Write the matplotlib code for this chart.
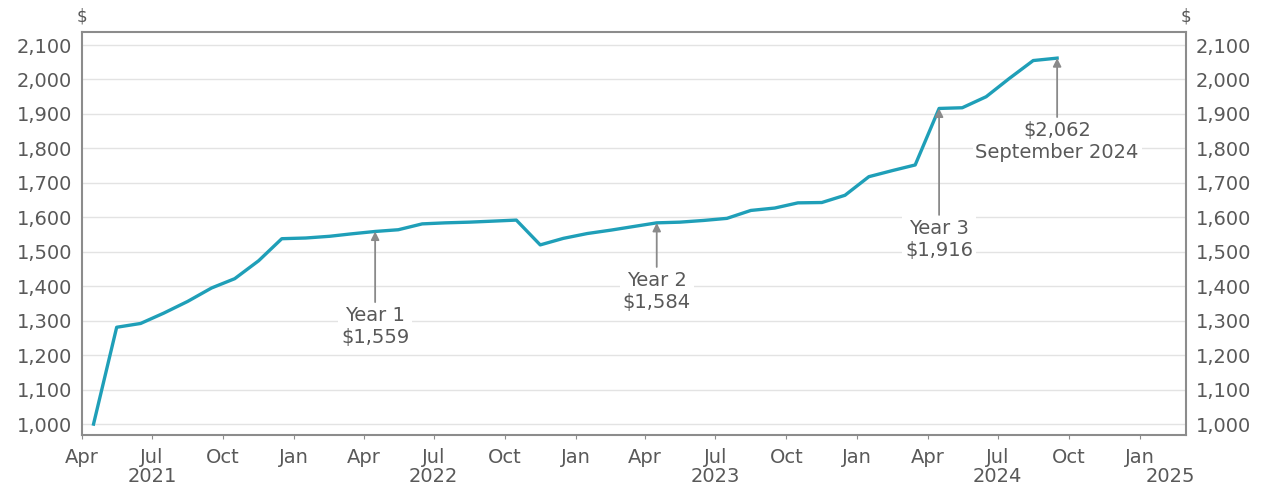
import matplotlib
matplotlib.use("Agg")
import matplotlib.pyplot as plt
import matplotlib.dates as mdates
import matplotlib.transforms as mtransforms
import numpy as np
import pandas as pd

# monthly values, Apr 2021 .. Sep 2024 (plotted mid-month)
months = pd.date_range("2021-04-01", periods=42, freq="MS") + pd.Timedelta(days=15)
values = [1000, 1281, 1292, 1322, 1356, 1395, 1422, 1474, 1538, 1540,
          1545, 1552, 1559, 1564, 1581, 1584, 1586, 1589, 1592, 1520,
          1539, 1553, 1563, 1573, 1584, 1586, 1591, 1597, 1620, 1627,
          1642, 1643, 1664, 1718, 1736, 1752, 1916, 1918, 1950, 2003,
          2055, 2062]

# annotations: (label, month index, arrow tail value)
notes = [("Year 1\n$1,559", 12, 1354),
         ("Year 2\n$1,584", 24, 1456),
         ("Year 3\n$1,916", 36, 1607),
         ("$2,062\nSeptember 2024", 41, 1891)]

years = ["2021", "2022", "2023", "2024", "2025"]
year_pos = ["2021-07-01", "2022-07-01", "2023-07-01", "2024-07-01", "2025-02-10"]

grey = "#595959"
line_col = "#1f9fb8"
fs = 14
plt.rcParams['font.family'] = ['DejaVu Sans']

fig = plt.figure(figsize=(12.61, 4.84), dpi=100)
ax = fig.add_axes([0.065, 0.101, 0.8755, 0.833])

ax.plot(months, values, color=line_col, lw=2.4, zorder=3)

ax.set_ylim(968, 2138)
ax.set_xlim(pd.Timestamp("2021-04-01"), pd.Timestamp("2025-03-02"))
ax.set_yticks(np.arange(1000, 2101, 100))
ax.yaxis.set_major_formatter(matplotlib.ticker.FuncFormatter(lambda v, p: f"{int(v):,}"))
ax.grid(axis="y", color="#e3e3e3", lw=1.0, zorder=0)

ax.xaxis.set_major_locator(mdates.MonthLocator(bymonth=[1, 4, 7, 10]))
ax.xaxis.set_major_formatter(mdates.DateFormatter("%b"))

for s in ax.spines.values():
    s.set_color("#8c8c8c")
    s.set_linewidth(1.5)

ax.tick_params(axis="y", length=0, labelsize=fs, labelcolor=grey, pad=7,
               labelright=True)
ax.tick_params(axis="x", length=3, color="#8c8c8c", labelsize=fs,
               labelcolor=grey, pad=6)

# "$" unit labels at both ends
ax.text(0, 1.015, "$", transform=ax.transAxes, ha="center", va="bottom",
        fontsize=12, color=grey)
ax.text(1, 1.015, "$", transform=ax.transAxes, ha="center", va="bottom",
        fontsize=12, color=grey)

# year labels under the month labels
trans = mtransforms.blended_transform_factory(ax.transData, ax.transAxes)
for yr, pos in zip(years, year_pos):
    ax.text(pd.Timestamp(pos), -0.102, yr, transform=trans, ha="center",
            va="center", fontsize=fs, color=grey)

for label, idx, ty in notes:
    ax.annotate("", xy=(months[idx], values[idx]), xytext=(months[idx], ty),
                arrowprops=dict(arrowstyle="-|>", color="#8a8a8a", lw=1.3,
                                mutation_scale=12, shrinkA=0, shrinkB=0),
                zorder=4)
    ax.text(months[idx], ty - 12, label, ha="center", va="top", fontsize=fs,
            color=grey, linespacing=1.2, zorder=5,
            bbox=dict(fc="white", ec="none", pad=2))

fig.savefig("out.png", dpi=100)
